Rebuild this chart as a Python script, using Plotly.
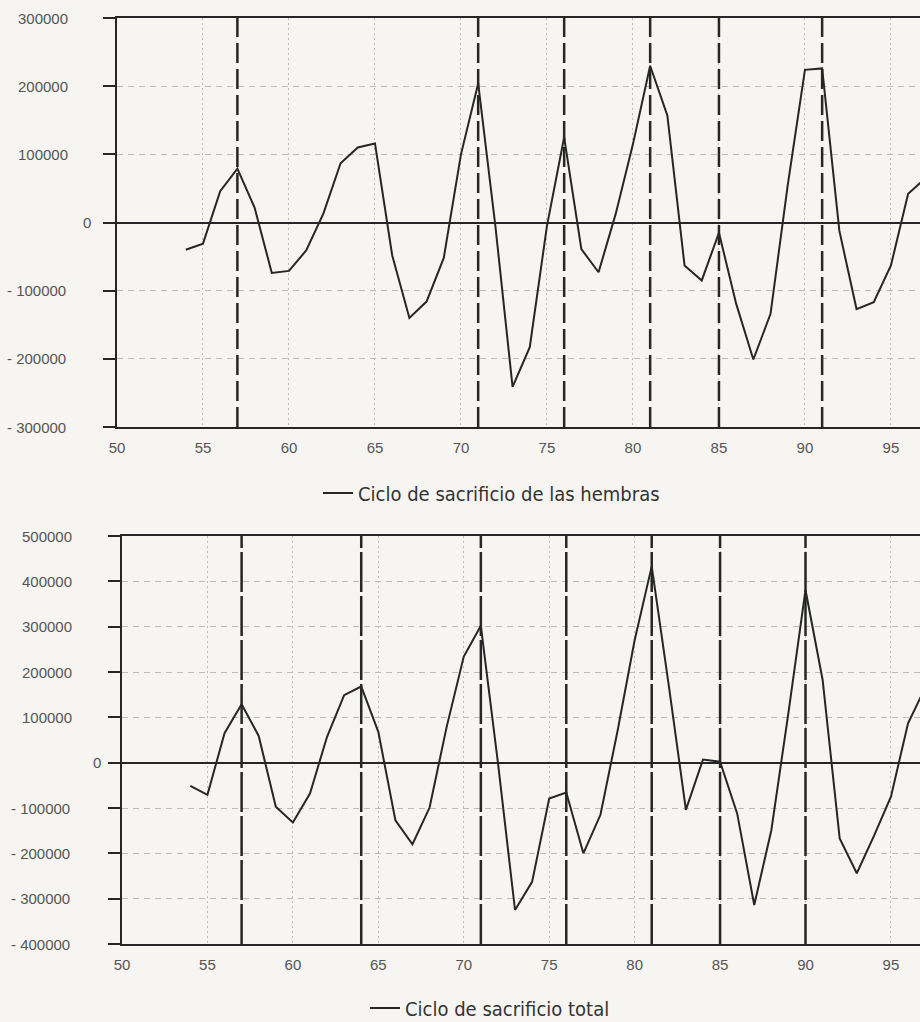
import plotly.graph_objects as go

# ---------------- data ----------------
years = list(range(54, 98))

hembras = [-40000, -31000, 46000, 79000, 22000, -74000, -71000, -41000, 13000, 87000,
           110000, 116000, -48000, -140000, -116000, -52000, 100000, 204000, -5000, -241000,
           -183000, -5000, 125000, -39000, -73000, 13000, 115000, 230000, 157000, -63000,
           -85000, -15000, -119000, -201000, -134000, 55000, 224000, 226000, -12000, -127000,
           -117000, -63000, 42000, 65000]

total = [-51000, -71000, 65000, 129000, 59000, -97000, -132000, -68000, 57000, 149000,
         168000, 68000, -127000, -180000, -99000, 79000, 234000, 302000, 0, -325000,
         -263000, -79000, -66000, -200000, -115000, 70000, 270000, 433000, 170000, -104000,
         7000, 2000, -112000, -314000, -149000, 110000, 381000, 183000, -167000, -244000,
         -162000, -75000, 87000, 165000]

eventos_hembras = [57, 71, 76, 81, 85, 91]
eventos_total = [57, 64, 71, 76, 81, 85, 90]

xticks = [50, 55, 60, 65, 70, 75, 80, 85, 90, 95]
yticks_top = [300000, 200000, 100000, 0, -100000, -200000, -300000]
yticks_bot = [500000, 400000, 300000, 200000, 100000, 0, -100000, -200000, -300000, -400000]

nombre_top = "Ciclo de sacrificio de las hembras"
nombre_bot = "Ciclo de sacrificio total"

# ---------------- styling ----------------
W, H = 920, 1022
BG = "#f6f5f1"
INK = "#262626"
GRID = "#bcbcbc"
TICKFONT = dict(family="Liberation Sans, Arial, sans-serif", size=15, color="#555555")
LEGFONT = dict(family="DejaVu Sans Condensed, Liberation Sans, sans-serif", size=20,
               color="#333333")


def lab(v):
    if v < 0:
        return "- " + str(-v)
    return str(v)


fig = go.Figure()

fig.add_trace(go.Scatter(x=years, y=hembras, mode="lines", name=nombre_top,
                         line=dict(color=INK, width=2), xaxis="x", yaxis="y",
                         legend="legend"))
fig.add_trace(go.Scatter(x=years, y=total, mode="lines", name=nombre_bot,
                         line=dict(color=INK, width=2), xaxis="x2", yaxis="y2",
                         legend="legend2"))

xcommon = dict(tickvals=xticks, ticks="", showline=True, automargin=False,
               linecolor=INK, linewidth=2, mirror=True, showgrid=True,
               gridcolor=GRID, gridwidth=1, griddash="2px,3px", zeroline=False,
               tickfont=TICKFONT, ticklabelstandoff=6)
ycommon = dict(showline=True, linecolor=INK, linewidth=2, ticks="outside", automargin=False,
               ticklen=12, tickwidth=1.5, tickcolor=INK, showticklabels=False,
               showgrid=True, gridcolor=GRID, gridwidth=1, griddash="6px,5px",
               zeroline=True, zerolinecolor=INK, zerolinewidth=1.6)

fig.update_layout(
    width=W, height=H, autosize=False,
    paper_bgcolor=BG, plot_bgcolor=BG,
    margin=dict(l=0, r=0, t=0, b=0, pad=0, autoexpand=False),
    xaxis=dict(domain=[117 / W, 1], anchor="y", range=[50, 96.69], **xcommon),
    yaxis=dict(domain=[(H - 427) / H, (H - 18) / H], anchor="x",
               range=[-300000, 300000], tickvals=yticks_top, **ycommon),
    xaxis2=dict(domain=[122 / W, 1], anchor="y2", range=[50, 96.7], **xcommon),
    yaxis2=dict(domain=[(H - 944) / H, (H - 536) / H], anchor="x2",
                range=[-400000, 500000], tickvals=yticks_bot, **ycommon),
    showlegend=True,
    legend=dict(x=318 / W, y=(H - 493) / H, xanchor="left", yanchor="middle",
                bgcolor="rgba(0,0,0,0)", font=LEGFONT),
    legend2=dict(x=365 / W, y=(H - 1008) / H, xanchor="left", yanchor="middle",
                 bgcolor="rgba(0,0,0,0)", font=LEGFONT),
)

# event (cycle) vertical lines
for ev in eventos_hembras:
    fig.add_shape(type="line", xref="x", yref="y domain", x0=ev, x1=ev, y0=0, y1=1,
                  line=dict(color=INK, width=2.5, dash="20px,6px"), layer="above")
for ev in eventos_total:
    fig.add_shape(type="line", xref="x2", yref="y2 domain", x0=ev, x1=ev, y0=0, y1=1,
                  line=dict(color=INK, width=2.5, dash="40px,4px"), layer="above")


# y tick labels (the "0" label sits further right, as in the original)
def ylabels(ticks, yref, xpos, xzero, xneg):
    for v in ticks:
        if v == 0:
            xp = xzero
        elif v < 0:
            xp = xneg
        else:
            xp = xpos
        fig.add_annotation(text=lab(v), xref="paper", yref=yref, x=xp / W, y=v,
                           xanchor="right", yanchor="middle", showarrow=False,
                           font=TICKFONT)


ylabels(yticks_top, "y", 70, 93, 68)
ylabels(yticks_bot, "y2", 74, 103, 72)

fig.write_html(
    "out.html",
    config={"displayModeBar": False},
    post_script="document.body.style.margin='0';document.body.style.padding='0';"
                "document.documentElement.style.overflow='hidden';",
)
